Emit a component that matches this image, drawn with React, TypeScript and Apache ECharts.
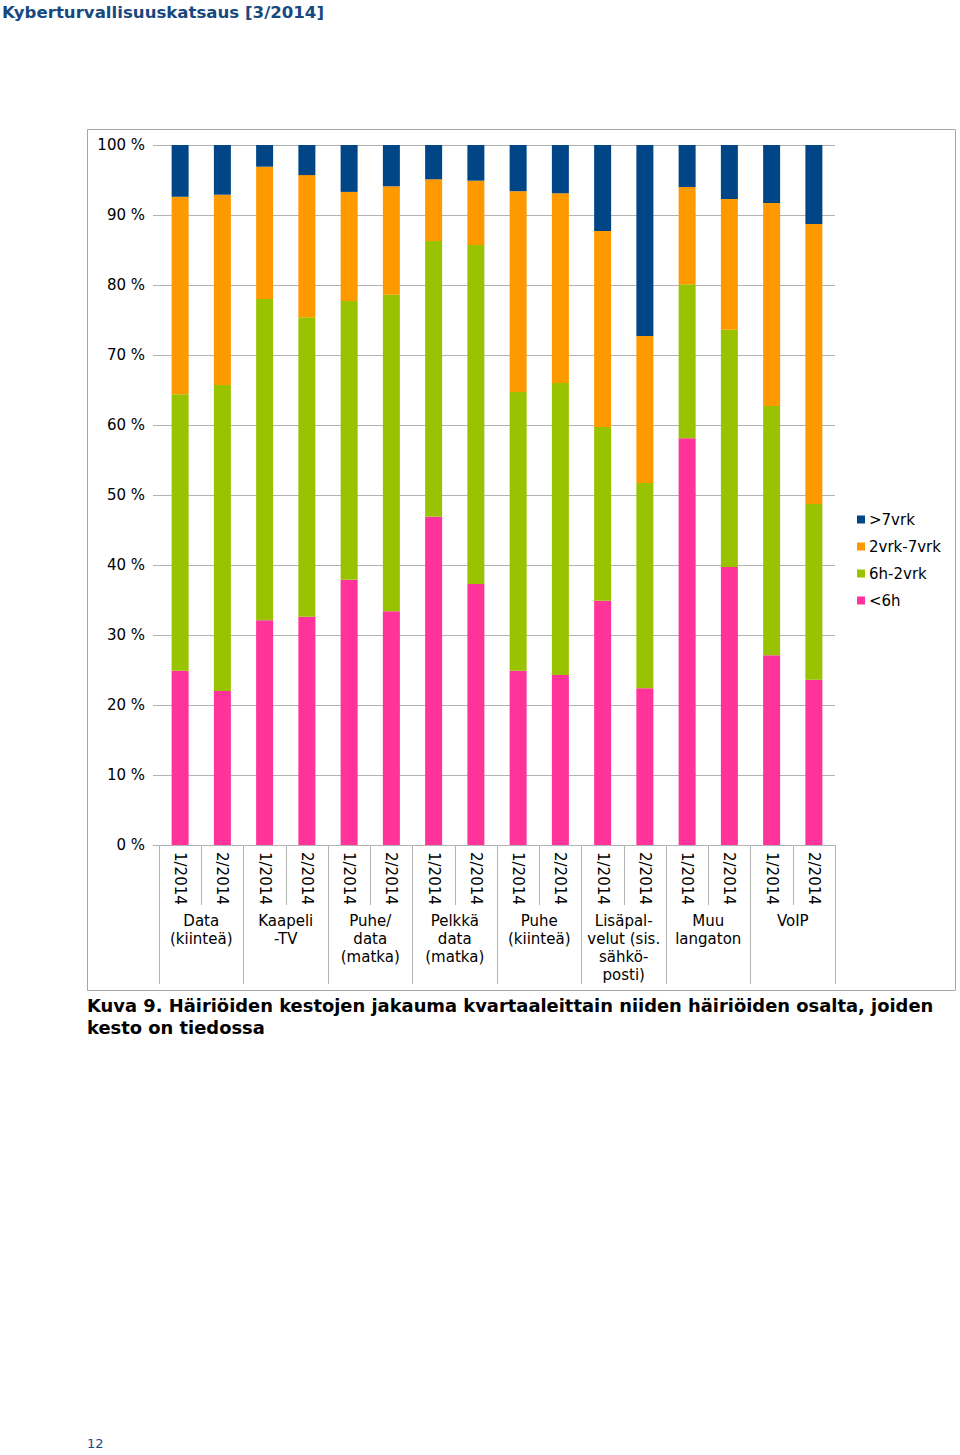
import React, { useEffect, useRef } from "react";
import * as echarts from "echarts";

const quarters = ["1/2014","2/2014","1/2014","2/2014","1/2014","2/2014","1/2014","2/2014","1/2014","2/2014","1/2014","2/2014","1/2014","2/2014","1/2014","2/2014"];
const groups = ["Data\n(kiinteä)","Kaapeli\n-TV","Puhe/\ndata\n(matka)","Pelkkä\ndata\n(matka)","Puhe\n(kiinteä)","Lisäpal-\nvelut (sis.\nsähkö-\nposti)","Muu\nlangaton","VoIP"];
const under6h = [24.9,22.0,32.1,32.6,37.9,33.4,46.9,37.3,24.9,24.3,34.9,22.4,58.1,39.7,27.1,23.6];
const h6to2vrk = [39.5,43.7,45.9,42.8,39.8,45.2,39.4,48.4,39.8,41.7,24.8,29.3,22.0,33.9,35.6,25.1];
const vrk2to7 = [28.2,27.2,18.9,20.3,15.6,15.5,8.8,9.2,28.7,27.1,28.0,21.0,13.9,18.7,29.0,40.0];
const over7vrk = [7.4,7.1,3.1,4.3,6.7,5.9,4.9,5.1,6.6,6.9,12.3,27.3,6.0,7.7,8.3,11.3];
const seriesNames = ["<6h","6h-2vrk","2vrk-7vrk",">7vrk"];
const colors = ["#FF3399","#99C300","#FF9900","#004586"];

export default function App() {
  const ref = useRef<HTMLDivElement>(null);
  useEffect(() => {
    const chart = echarts.init(ref.current!, null, { renderer: "svg" });
    const font = "DejaVu Sans";
    const data = [under6h, h6to2vrk, vrk2to7, over7vrk];
    chart.setOption({
      animation: false,
      color: colors,
      grid: { left: 159, top: 145, width: 676, height: 700, containLabel: false },
      legend: {
        orient: "vertical",
        left: 857,
        top: 512,
        padding: 0,
        itemWidth: 8,
        itemHeight: 8,
        itemGap: 12,
        icon: "rect",
        data: [">7vrk","2vrk-7vrk","6h-2vrk","<6h"],
        textStyle: { fontFamily: font, fontSize: 15, color: "#000", lineHeight: 15, padding: [0,0,0,-1] },
      },
      xAxis: [
        {
          type: "category",
          data: quarters,
          position: "bottom",
          axisLine: { show: true, lineStyle: { color: "#b3b3b3" } },
          axisTick: { show: true, length: 60, interval: 0, lineStyle: { color: "#b3b3b3" } },
          axisLabel: { interval: 0, rotate: -90, margin: 7, fontFamily: font, fontSize: 15, color: "#000" },
        },
        {
          type: "category",
          data: groups,
          position: "bottom",
          offset: 0,
          axisLine: { show: false },
          axisTick: { show: true, length: 139, interval: 0, lineStyle: { color: "#b3b3b3" } },
          axisLabel: { interval: 0, margin: 67, fontFamily: font, fontSize: 15, lineHeight: 18, color: "#000" },
        },
      ],
      yAxis: {
        type: "value",
        min: 0,
        max: 100,
        interval: 10,
        axisLine: { show: false },
        axisTick: { show: true, length: 6, lineStyle: { color: "#b3b3b3" } },
        splitLine: { lineStyle: { color: "#b3b3b3" } },
        axisLabel: { formatter: (v: number) => v + " %", margin: 14, fontFamily: font, fontSize: 15, color: "#000" },
      },
      series: seriesNames.map((n, i) => ({
        name: n,
        type: "bar",
        stack: "total",
        xAxisIndex: 0,
        barWidth: 17,
        data: data[i],
      })),
      graphic: [
        { type: "rect", shape: { x: 87.5, y: 129.5, width: 868, height: 861 }, style: { fill: "none", stroke: "#a6a6a6", lineWidth: 1 }, silent: true },
        { type: "text", x: 2, y: 12, style: { text: "Kyberturvallisuuskatsaus [3/2014]", fontFamily: font, fontWeight: "bold", fontSize: 16.6, fill: "#17497F", verticalAlign: "middle" } },
        { type: "text", x: 87, y: 994, style: { text: "Kuva 9. Häiriöiden kestojen jakauma kvartaaleittain niiden häiriöiden osalta, joiden\nkesto on tiedossa", fontFamily: font, fontWeight: "bold", fontSize: 17.9, lineHeight: 22, fill: "#000", verticalAlign: "top" } },
        { type: "text", x: 87, y: 1443, style: { text: "12", fontFamily: font, fontSize: 13, fill: "#17497F", verticalAlign: "middle" } },
      ],
    });
    return () => chart.dispose();
  }, []);
  return <div ref={ref} style={{ position: "absolute", left: 0, top: 0, width: 960, height: 1455, background: "#fff" }} />;
}
